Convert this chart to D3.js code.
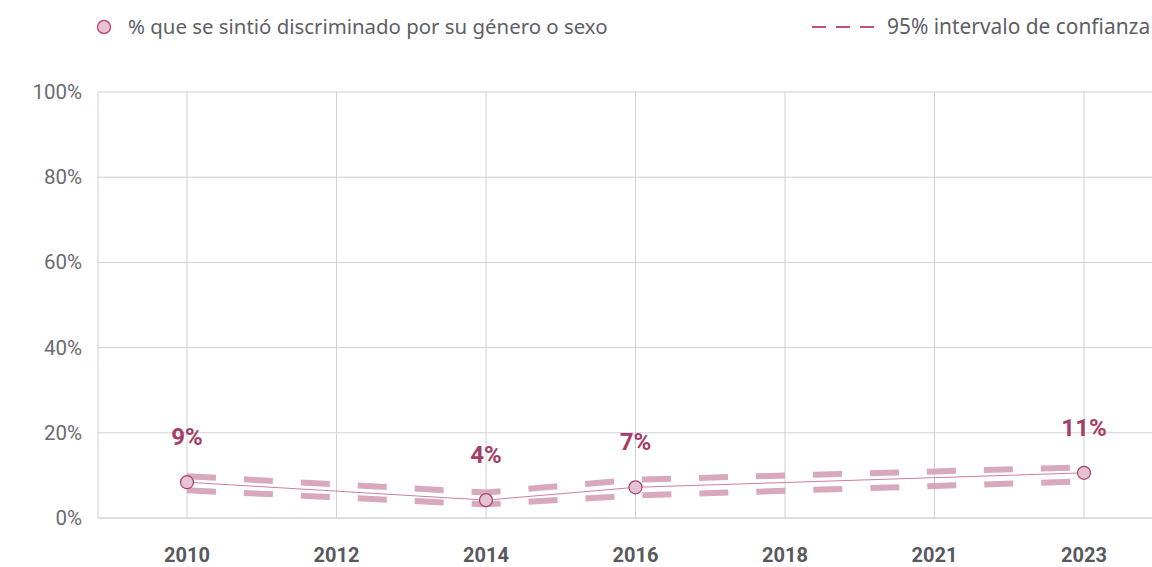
<!DOCTYPE html>
<html>
<head>
<meta charset="utf-8">
<script src="https://cdn.jsdelivr.net/npm/d3@7"></script>
<style>
  body { margin: 0; background: #fff; }
  svg { display: block; }
</style>
</head>
<body>
<svg id="chart" width="1152" height="567"></svg>
<script>
// categories on the x axis
const years = ["2010", "2012", "2014", "2016", "2018", "2021", "2023"];
// observed survey years and values (%)
const obsYears = ["2010", "2014", "2016", "2023"];
const share = [8.4, 4.2, 7.2, 10.6];
const ciUpper = [9.8, 6.0, 9.0, 11.9];
const ciLower = [6.5, 3.2, 5.3, 8.6];
const valueLabels = ["9%", "4%", "7%", "11%"];
const yTicks = [0, 20, 40, 60, 80, 100];

const svg = d3.select("#chart");
const plotLeft = 98, plotRight = 1152, plotTop = 92, plotBottom = 518;

const x = d3.scalePoint().domain(years).range([187, 1084]);
const y = d3.scaleLinear().domain([0, 100]).range([plotBottom, plotTop]);

const points = obsYears.map((yr, i) => ({
  year: yr, v: share[i], hi: ciUpper[i], lo: ciLower[i], label: valueLabels[i]
}));

// grid
svg.append("g").selectAll("line")
  .data(yTicks)
  .enter().append("line")
  .attr("x1", plotLeft).attr("x2", plotRight)
  .attr("y1", d => y(d)).attr("y2", d => y(d))
  .attr("stroke", d => d === 0 ? "#bdbdbd" : "#d0d0d0")
  .attr("stroke-width", 1);

svg.append("g").selectAll("line")
  .data(years)
  .enter().append("line")
  .attr("x1", d => x(d)).attr("x2", d => x(d))
  .attr("y1", plotTop).attr("y2", plotBottom)
  .attr("stroke", "#d0d0d0");

svg.append("line")
  .attr("x1", plotLeft).attr("x2", plotLeft)
  .attr("y1", plotTop).attr("y2", plotBottom)
  .attr("stroke", "#d0d0d0");

// y axis labels
svg.append("g").selectAll("text")
  .data(yTicks)
  .enter().append("text")
  .attr("x", 82)
  .attr("y", d => y(d) + 7)
  .attr("text-anchor", "end")
  .attr("font-family", "Roboto, sans-serif")
  .attr("font-size", 20.5)
  .attr("fill", "#6b6b70")
  .text(d => d + "%");

// x axis labels
svg.append("g").selectAll("text")
  .data(years)
  .enter().append("text")
  .attr("x", d => x(d))
  .attr("y", 562)
  .attr("text-anchor", "middle")
  .attr("font-family", "Roboto, sans-serif")
  .attr("font-weight", "bold")
  .attr("font-size", 20)
  .attr("fill", "#58585e")
  .text(d => d);

// confidence interval lines
const ciStyle = sel => sel
  .attr("fill", "none")
  .attr("stroke", "#d49fb6")
  .attr("stroke-opacity", 0.9)
  .attr("stroke-width", 6)
  .attr("stroke-dasharray", "29,28");

svg.append("path")
  .datum(points)
  .attr("d", d3.line().x(d => x(d.year)).y(d => y(d.hi)))
  .call(ciStyle);

svg.append("path")
  .datum(points)
  .attr("d", d3.line().x(d => x(d.year)).y(d => y(d.lo)))
  .call(ciStyle);

// main line
svg.append("path")
  .datum(points)
  .attr("d", d3.line().x(d => x(d.year)).y(d => y(d.v)))
  .attr("fill", "none")
  .attr("stroke", "#c9809f")
  .attr("stroke-width", 1);

svg.append("g").selectAll("circle")
  .data(points)
  .enter().append("circle")
  .attr("cx", d => x(d.year))
  .attr("cy", d => y(d.v))
  .attr("r", 6.5)
  .attr("fill", "#e6c3d2")
  .attr("stroke", "#a8406d")
  .attr("stroke-width", 1.2);

svg.append("g").selectAll("text")
  .data(points)
  .enter().append("text")
  .attr("x", d => x(d.year))
  .attr("y", d => y(d.v) - 37)
  .attr("text-anchor", "middle")
  .attr("font-family", "Roboto, sans-serif")
  .attr("font-weight", "bold")
  .attr("font-size", 24)
  .attr("fill", "#a63d69")
  .text(d => d.label);

// legend
const legend = svg.append("g");
legend.append("circle")
  .attr("cx", 104).attr("cy", 27).attr("r", 6.5)
  .attr("fill", "#e6c3d2")
  .attr("stroke", "#c0507e")
  .attr("stroke-width", 1.5);
legend.append("text")
  .attr("x", 128).attr("y", 34)
  .attr("font-family", "'Noto Sans', sans-serif")
  .attr("font-size", 20.4)
  .attr("fill", "#5e5e66")
  .text("% que se sintió discriminado por su género o sexo");

legend.append("line")
  .attr("x1", 812).attr("x2", 874)
  .attr("y1", 27).attr("y2", 27)
  .attr("stroke", "#c0507e")
  .attr("stroke-width", 2)
  .attr("stroke-dasharray", "14,10");
legend.append("text")
  .attr("x", 887).attr("y", 34)
  .attr("font-family", "'Noto Sans', sans-serif")
  .attr("font-size", 20.9)
  .attr("fill", "#5e5e66")
  .text("95% intervalo de confianza");
</script>
</body>
</html>
